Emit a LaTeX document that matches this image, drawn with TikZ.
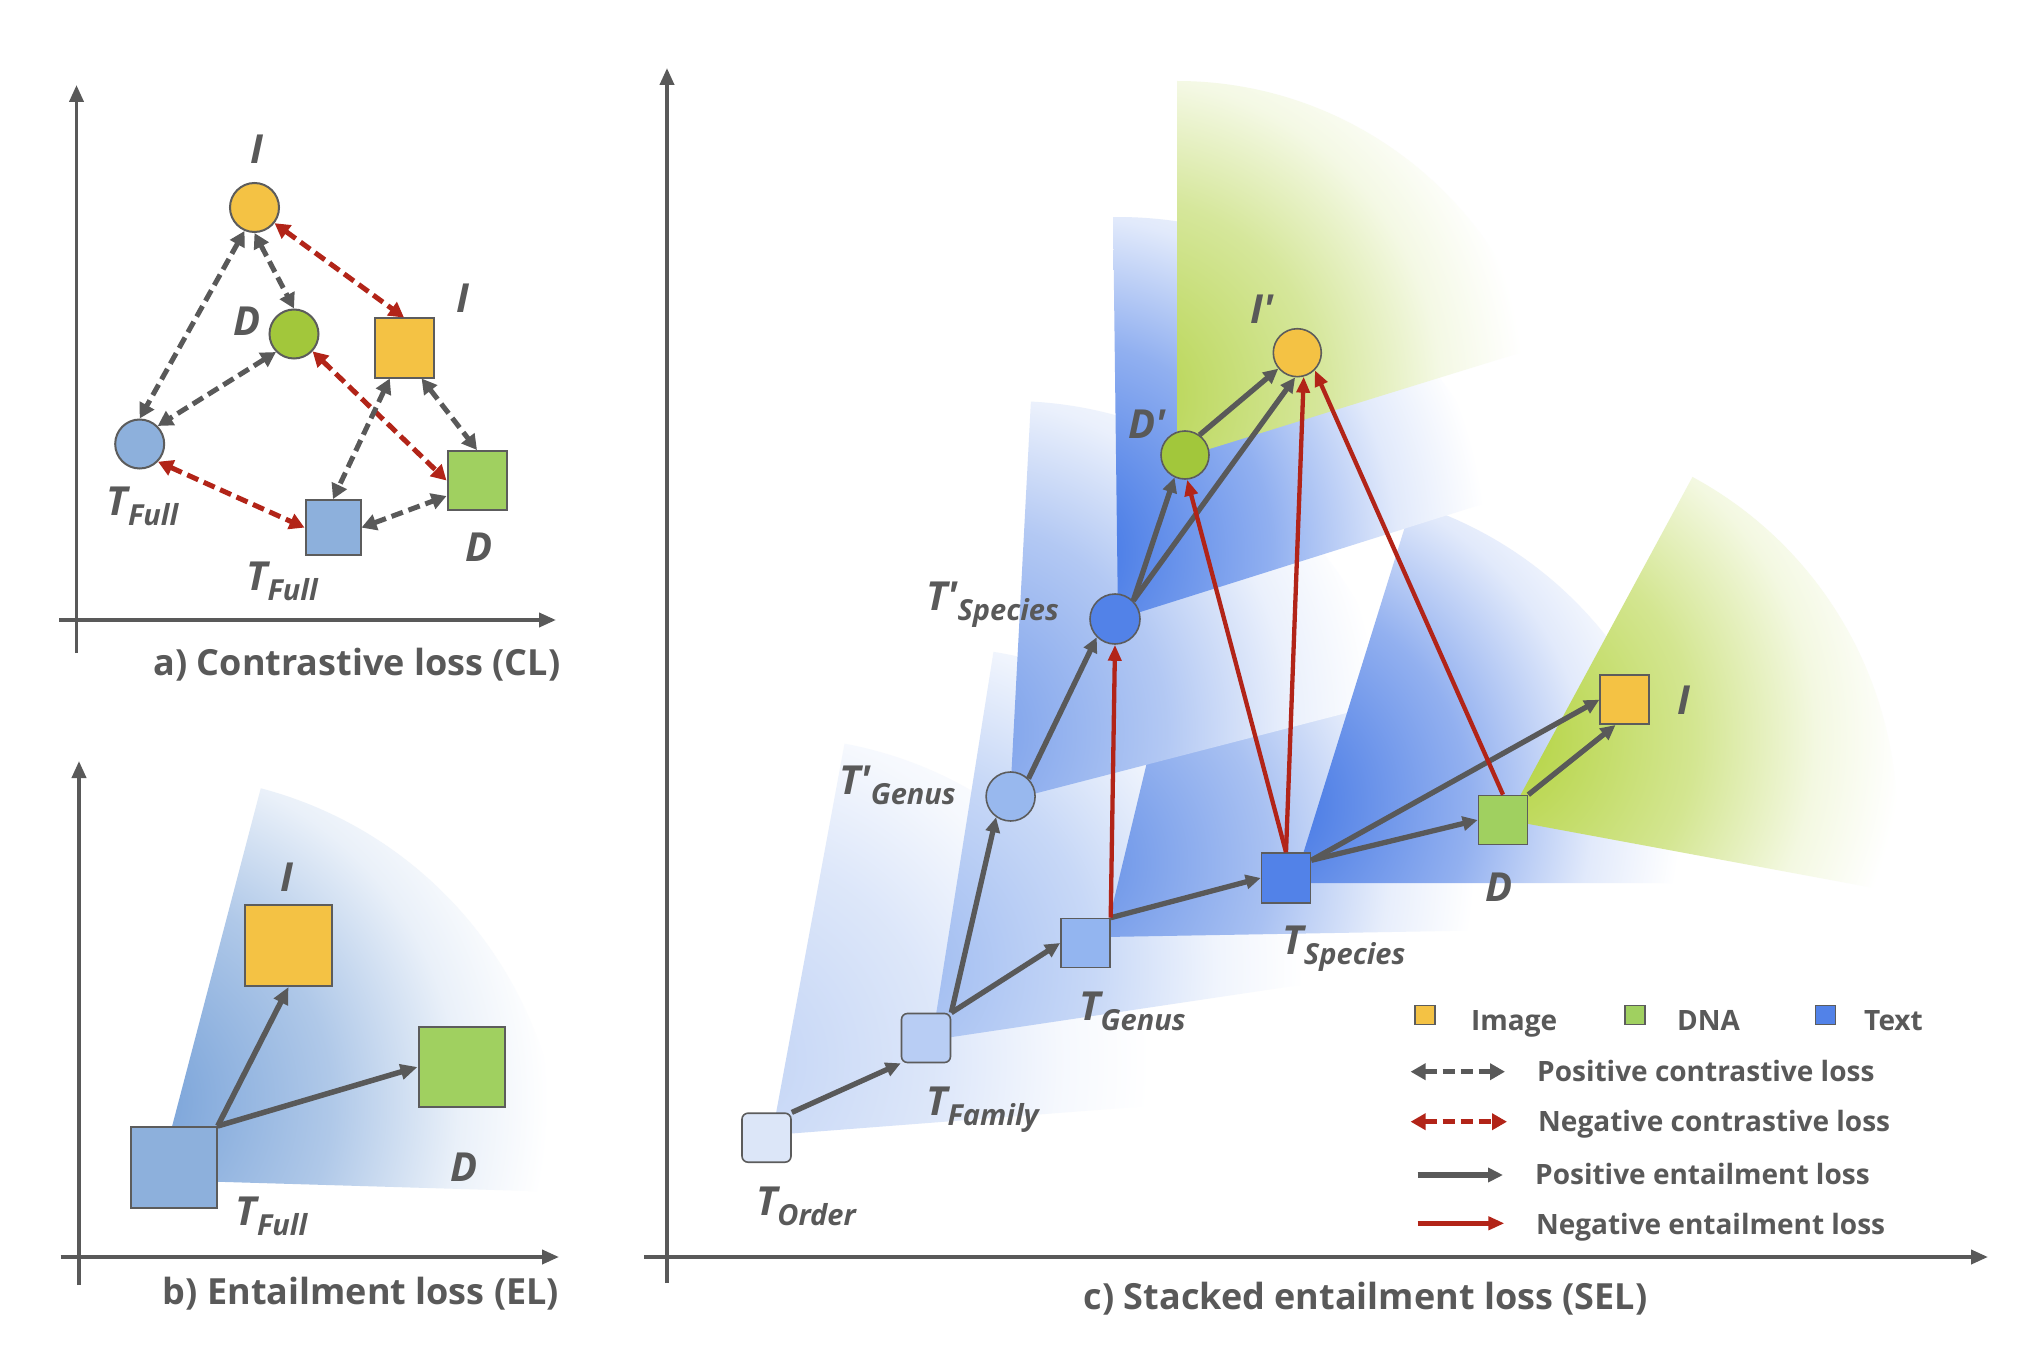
\documentclass[tikz,border=0pt]{standalone}
\usepackage{fontspec}
\setmainfont{Open Sans}
\usetikzlibrary{arrows.meta}
\definecolor{txt}{HTML}{595959}
\definecolor{gr}{HTML}{595959}
\definecolor{rd}{HTML}{B22418}
\definecolor{ol}{HTML}{5C5C5C}
\definecolor{yel}{HTML}{F4C244}
\definecolor{grnS}{HTML}{A0D060}
\definecolor{grnC}{HTML}{A2C73B}
\definecolor{bluA}{HTML}{8DB0DC}
\definecolor{tOrd}{HTML}{DCE6F8}
\definecolor{tFam}{HTML}{B8CDF4}
\definecolor{tGen}{HTML}{93B5F0}
\definecolor{tSpe}{HTML}{5282E8}
\definecolor{tpGen}{HTML}{98B8EE}
% wedge inner colours (at the shading centre)
\definecolor{wbB}{HTML}{6F9CD6}
\definecolor{wOrd}{HTML}{C1D3F5}
\definecolor{wFam}{HTML}{9AB8F0}
\definecolor{wpGen}{HTML}{759CEA}
\definecolor{wGen}{HTML}{628EE7}
\definecolor{wSpe}{HTML}{3A70E3}
\definecolor{wpSpe}{HTML}{376FE4}
\definecolor{wDp}{HTML}{B4D34A}
\definecolor{wD}{HTML}{B0D137}
\newcommand{\defwedge}[2]{%
  \colorlet{#1m}{#2!55!white}%
  \colorlet{#1o}{#2!15!white}%
  \pgfdeclareradialshading{#1}{\pgfpoint{0bp}{0bp}}{color(0bp)=(#2); color(12bp)=(#1m); color(19bp)=(#1o); color(24bp)=(white); color(50bp)=(white)}}
\defwedge{shB}{wbB}
\defwedge{shOrd}{wOrd}
\defwedge{shFam}{wFam}
\defwedge{shpGen}{wpGen}
\defwedge{shGen}{wGen}
\defwedge{shSpe}{wSpe}
\defwedge{shpSpe}{wpSpe}
\defwedge{shDp}{wDp}
\defwedge{shD}{wD}
% apex x, apex y, low angle, high angle (visual, degrees), radius, shading
\newcommand{\fan}[6]{%
  \begin{scope}
    \clip (#1,#2) -- ++({-(#3)}:#5) arc[start angle={-(#3)}, end angle={-(#4)}, radius=#5] -- cycle;
    \shade[shading=#6] (#1,#2) ++({-(#4+42)}:{0.22*#5}) circle[radius={1.11*#5}];
  \end{scope}}
\newcommand{\lbfont}{\fontsize{40}{40}\selectfont\bfseries\itshape}
\newcommand{\lbsub}[2]{#1\raisebox{-10pt}{\fontsize{29}{29}\selectfont #2}}
\newcommand{\cpfont}{\fontsize{36}{36}\selectfont\bfseries}
\newcommand{\lgfont}{\fontsize{28}{28}\selectfont\bfseries}
\tikzset{
  circ/.style={draw=ol, line width=2pt, circle, inner sep=0pt, fill=#1},
  sqr/.style={draw=ol, line width=2pt, rectangle, inner sep=0pt, fill=#1},
  csq/.style={draw=ol, line width=1.6pt, rectangle, inner sep=0pt, minimum size=49pt, fill=#1},
  ccirc/.style={draw=ol, line width=1.6pt, circle, inner sep=0pt, fill=#1},
  lab/.style={text=txt, font=\lbfont, inner sep=0pt},
  captxt/.style={text=txt, font=\cpfont, inner sep=0pt},
  lgt/.style={text=txt, font=\lgfont, inner sep=0pt, anchor=base west},
  axis/.style={draw=gr, line width=3.8pt, -{Triangle[length=17pt,width=14pt]}},
  pc/.style={draw=gr, line width=5pt, dash pattern=on 12pt off 6pt,
     {Triangle[length=15pt,width=16pt]}-{Triangle[length=15pt,width=16pt]}},
  nc/.style={pc, draw=rd},
  pb/.style={draw=gr, line width=5.5pt, -{Triangle[length=17pt,width=15pt]}},
  pe/.style={draw=gr, line width=5.3pt, -{Triangle[length=15pt,width=14pt]}},
  ne/.style={draw=rd, line width=4.3pt, -{Triangle[length=16pt,width=13pt]}},
}
\begin{document}
\begin{tikzpicture}[x=1pt,y=-1pt]
\useasboundingbox (0,0) rectangle (2040,1356);
\fill[white] (0,0) rectangle (2040,1356);

% ================= panel a =================
\coordinate (ayb) at (76.5,653); \coordinate (ayt) at (76.5,85);
\coordinate (axl) at (59,620);   \coordinate (axr) at (556,620);
\draw[axis] (ayb) -- (ayt);
\draw[axis] (axl) -- (axr);

\node[circ=yel,  minimum size=49pt] (aI) at (254.5,207.5) {};
\node[circ=grnC, minimum size=49pt] (aD) at (294,334) {};
\node[circ=bluA, minimum size=49pt] (aT) at (139.7,444) {};
\node[sqr=yel,  minimum size=59pt] (aIs) at (404,348) {};
\node[sqr=grnS, minimum size=59pt] (aDs) at (477,480.5) {};
\node[sqr=bluA, minimum size=55pt] (aTs) at (333,527.6) {};

\draw[pc] (aI.-113) -- (aT.north);
\draw[pc] (aI.south) -- (aD.north);
\draw[nc] (aI.-38) -- (aIs.north);
\draw[pc] (aD.south west) -- (aT.north east);
\draw[nc] (aD.-43) -- (aDs.west);
\draw[pc] (aIs.-115) -- (aTs.north);
\draw[pc] (aIs.-60) -- (aDs.north);
\draw[nc] (aT.-44) -- (aTs.west);
\draw[pc] (aTs.east) -- (aDs.-153);

\node[lab] (laI) at (257,149.5) {I};
\node[lab] (laD) at (247,321.5) {D};
\node[lab] (laI2) at (463,298.5) {I};
\node[lab] (laT) at (142.5,506) {\lbsub{T}{Full}};
\node[lab] (laD2) at (479.5,547.5) {D};
\node[lab] (laT2) at (282,581.5) {\lbsub{T}{Full}};
\node[captxt, anchor=base] (capA) at (357,675) {a) Contrastive loss (CL)};

% ================= panel b =================
\fan{158}{1180}{-1.7}{75.3}{405}{shB}
\coordinate (byb) at (79,1285); \coordinate (byt) at (79,761);
\coordinate (bxl) at (60.5,1257); \coordinate (bxr) at (559,1257);
\draw[axis] (byb) -- (byt);
\draw[axis] (bxl) -- (bxr);

\node[sqr=bluA, minimum width=86pt, minimum height=81pt] (bT) at (173.7,1167.5) {};
\node[sqr=yel,  minimum width=87pt, minimum height=81pt] (bI) at (288.5,945.5) {};
\node[sqr=grnS, minimum width=86pt, minimum height=80pt] (bD) at (461.5,1067) {};
\draw[pb] (bT.north east) -- (bI.south);
\draw[pb] (bT.north east) -- (bD.west);
\node[lab] (lbI) at (287,877) {I};
\node[lab] (lbD) at (464,1167.5) {D};
\node[lab] (lbT) at (271.5,1216) {\lbsub{T}{Full}};
\node[captxt, anchor=base] (capB) at (361,1304) {b) Entailment loss (EL)};

% ================= panel c =================
\fan{772}{1135}{4.4}{79.5}{398}{shOrd}
\fan{932}{1040}{8.5}{81}{393}{shFam}
\fan{1105}{937}{1}{76.5}{385}{shGen}
\fan{1010}{800}{14.5}{87}{399}{shpGen}
\fan{1294}{883}{0}{72.7}{398}{shSpe}
\fan{1118}{619}{17.5}{90.7}{402}{shpSpe}
\fan{1177}{459}{17.2}{90}{378}{shDp}
\fan{1507}{820}{-10.5}{61.6}{390}{shD}

\coordinate (cyb) at (667,1283); \coordinate (cyt) at (667,68);
\coordinate (cxl) at (644,1257); \coordinate (cxr) at (1988,1257);
\draw[axis] (cyb) -- (cyt);
\draw[axis] (cxl) -- (cxr);

\node[csq=tOrd, rounded corners=6pt] (cTO) at (766.5,1137.7) {};
\node[csq=tFam, rounded corners=6pt] (cTF) at (926,1038) {};
\node[csq=tGen] (cTG) at (1085.4,943) {};
\node[csq=tSpe, minimum height=50pt] (cTS) at (1286,878) {};
\node[ccirc=tpGen, minimum size=49pt] (cTpG) at (1010.6,796.5) {};
\node[ccirc=tSpe, minimum size=50pt] (cTpS) at (1115,619) {};
\node[ccirc=grnC, minimum size=48pt] (cDp) at (1185,455) {};
\node[ccirc=yel, minimum size=48pt] (cIp) at (1297.3,352.7) {};
\node[csq=grnS] (cD) at (1503,820) {};
\node[csq=yel] (cI) at (1624.7,699.7) {};

\draw[pe] (cTO.north east) -- (cTF.south west);
\draw[pe] (cTF.north east) -- (cTG.west);
\draw[pe] (cTF.north east) -- (cTpG.-125);
\draw[pe] (cTG.north east) -- (cTS.west);
\draw[pe] (cTpG.north east) -- (cTpS.-135);
\draw[pe] (cTpS.north east) -- (cDp.-115);
\draw[pe] (cTpS.north east) -- (cIp.-95);
\draw[pe] (cDp.54) -- (cIp.-140);
\draw[pe] (cTS.35) -- (cD.west);
\draw[pe] (cTS.35) -- (cI.west);
\draw[pe] (cD.north east) -- (cI.-110);

\draw[ne] (cTG.north east) -- (cTpS.south);
\draw[ne] (cTS.north) -- (cDp.-85);
\draw[ne] (cTS.north) -- (cIp.-75);
\draw[ne] (cD.north) -- (cIp.-45);

\node[lab] (lcIp) at (1262,309) {I\textquotesingle};
\node[lab] (lcDp) at (1147.5,424) {D\textquotesingle};
\node[lab] (lcTpS) at (992.5,604.5) {\lbsub{T\textquotesingle}{Species}};
\node[lab] (lcTpG) at (897.5,785) {\lbsub{T\textquotesingle}{Genus}};
\node[lab] (lcTO) at (806,1206) {\lbsub{T}{Order}};
\node[lab] (lcTF) at (982.5,1110) {\lbsub{T}{Family}};
\node[lab] (lcTG) at (1132.5,1011.7) {\lbsub{T}{Genus}};
\node[lab] (lcTS) at (1344,948.3) {\lbsub{T}{Species}};
\node[lab] (lcD) at (1499,887) {D};
\node[lab] (lcI) at (1684,700) {I};
\node[captxt, anchor=base] (capC) at (1365.5,1309) {c) Stacked entailment loss (SEL)};

% ================= legend =================
\node[draw=ol, line width=1.4pt, fill=yel, inner sep=0pt, minimum width=20pt, minimum height=19pt] (lgI) at (1425,1015) {};
\node[draw=ol, line width=1.4pt, fill=grnS, inner sep=0pt, minimum width=20pt, minimum height=19pt] (lgD) at (1635,1015) {};
\node[draw=ol, line width=1.4pt, fill=tSpe, inner sep=0pt, minimum width=20pt, minimum height=19pt] (lgT) at (1825.5,1015) {};
\node[lgt] (tI) at (1471,1030) {Image};
\node[lgt] (tD) at (1677,1030) {DNA};
\node[lgt] (tT) at (1864,1030) {Text};
\coordinate (l1a) at (1410.6,1071.7); \coordinate (l1b) at (1505,1071.7);
\coordinate (l2a) at (1410.6,1121.7); \coordinate (l2b) at (1507,1121.7);
\coordinate (l3a) at (1417.5,1175);   \coordinate (l3b) at (1503,1175);
\coordinate (l4a) at (1417.5,1223.3); \coordinate (l4b) at (1504.4,1223.3);
\draw[pc] (l1a) -- (l1b);
\draw[nc] (l2a) -- (l2b);
\draw[pe] (l3a) -- (l3b);
\draw[ne, line width=5pt] (l4a) -- (l4b);
\node[lgt] (t1) at (1537,1081.7) {Positive contrastive loss};
\node[lgt] (t2) at (1538,1131) {Negative contrastive loss};
\node[lgt] (t3) at (1535,1184) {Positive entailment loss};
\node[lgt] (t4) at (1535.8,1234.3) {Negative entailment loss};
\end{tikzpicture}
\end{document}
